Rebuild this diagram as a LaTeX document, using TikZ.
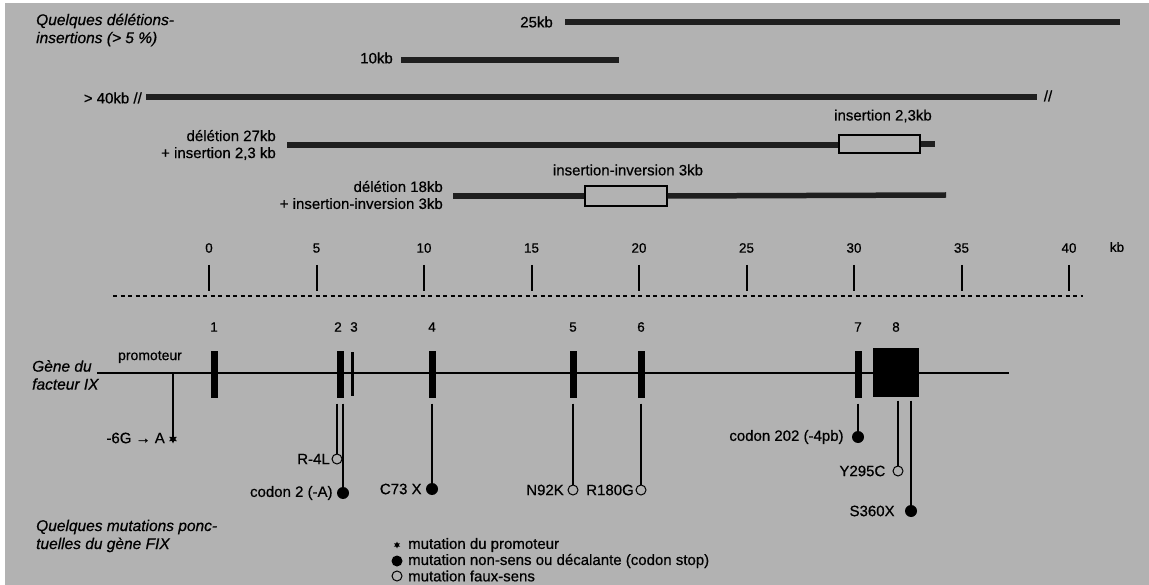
\documentclass[tikz,border=0pt]{standalone}
\usepackage{fontspec}
\setmainfont{Liberation Sans}
\newfontfamily\medfont{Liberation Sans}[FakeBold=0.6]
\usetikzlibrary{shapes.geometric}
\definecolor{bg}{gray}{0.70}
\begin{document}
\begin{tikzpicture}[x=1pt,y=-1pt]
\tikzset{
 lbl/.style={font=\medfont\fontsize{15}{17}\selectfont, inner sep=0pt},
 num/.style={font=\medfont\fontsize{13.5}{16}\selectfont, inner sep=0pt},
 ttl/.style={font=\medfont\fontsize{15.5}{18}\selectfont\itshape, inner sep=0pt, align=left, anchor=west},
 dbar/.style={line width=5.5pt, black!88},
 insbox/.style={draw, line width=1.3pt, fill=bg, inner sep=0pt},
 exon/.style={fill=black, inner sep=0pt},
 mut/.style={line width=1.4pt},
 odot/.style={circle, draw, line width=1pt, fill=bg, minimum size=10pt, inner sep=0pt},
 fdot/.style={circle, fill=black, minimum size=12pt, inner sep=0pt},
 sdot/.style={star, star points=6, star point ratio=2, fill=black, minimum size=9pt, inner sep=0pt},
 tick/.style={line width=2pt},
}
\fill[white] (0,0) rectangle (1149,585);
\fill[bg] (5,3) rectangle (1149,585);
\useasboundingbox (0,0) rectangle (1149,585);

% titles
\node[ttl] (t1) at (36,30) {Quelques délétions-\\insertions (> 5 \%)};
\node[ttl] (t2) at (32,375) {Gène du\\facteur IX};
\node[ttl] (t3) at (36,536) {Quelques mutations ponc-\\tuelles du gène FIX};

% deletions
\node[lbl, anchor=east] (l25) at (553,22) {25kb};
\coordinate (b25a) at (565,22); \coordinate (b25b) at (1120,22);
\draw[dbar] (b25a) -- (b25b);

\node[lbl, anchor=east] (l10) at (393,58) {10kb};
\coordinate (b10a) at (401,60); \coordinate (b10b) at (619,60);
\draw[dbar] (b10a) -- (b10b);

\node[lbl, anchor=east] (l40) at (142,98) {> 40kb //};
\coordinate (b40a) at (146,97); \coordinate (b40b) at (1037,97);
\draw[dbar] (b40a) -- (b40b);
\node[lbl] (l40e) at (1048,96) {//};

\node[lbl, anchor=east, align=right] (l27) at (276,145) {délétion 27kb\\+ insertion 2,3 kb};
\node[insbox, minimum width=81pt, minimum height=18pt] (i27) at (879.5,144) {};
\coordinate (b27a) at (287,145); \coordinate (b27b) at (935,144);
\draw[dbar] (b27a) -- (b27a -| i27.west);
\draw[dbar] (i27.east) -- (b27b);
\node[lbl] (li27) at (883,116) {insertion 2,3kb};

\node[lbl, anchor=east, align=right] (l18) at (443,195) {délétion 18kb\\+ insertion-inversion 3kb};
\node[insbox, minimum width=82pt, minimum height=20pt] (i18) at (626,196) {};
\coordinate (b18a) at (453,196); \coordinate (b18b) at (946,195);
\draw[dbar] (b18a) -- (i18.west);
\draw[dbar] (i18.east) -- (b18b);
\node[lbl] (li18) at (628,170) {insertion-inversion 3kb};

% scale
\foreach \k in {0,5,...,40}{
  \node[num] (s\k) at ({209+21.5*\k},248) {\k};
  \draw[tick] ({209+21.5*\k},265) -- ({209+21.5*\k},291);
}
\node[num] (skb) at (1117,247) {kb};
\coordinate (da) at (113,296); \coordinate (db) at (1083,296);
\draw[line width=2pt, dash pattern=on 4pt off 3.5pt] (da) -- (db);

% gene
\coordinate (ga) at (97,373); \coordinate (gb) at (1009,373);
\draw[line width=2.5pt] (ga) -- (gb);
\node[lbl, font=\medfont\fontsize{14}{16}\selectfont] (prom) at (150,357) {promoteur};
\node[exon, minimum width=7pt, minimum height=46pt] (e1) at (214,374.5) {};
\node[exon, minimum width=7pt, minimum height=46pt] (e2) at (340,374.5) {};
\node[exon, minimum width=3.5pt, minimum height=44pt] (e3) at (352.5,374) {};
\node[exon, minimum width=7pt, minimum height=46pt] (e4) at (432,374.5) {};
\node[exon, minimum width=7pt, minimum height=46pt] (e5) at (573,374.5) {};
\node[exon, minimum width=7pt, minimum height=46pt] (e6) at (641,374.5) {};
\node[exon, minimum width=7pt, minimum height=46pt] (e7) at (858.5,374.5) {};
\node[exon, minimum width=46pt, minimum height=48pt] (e8) at (896,372.5) {};
\node[num] (n1) at (214,327) {1};
\node[num] (n2) at (338,327) {2};
\node[num] (n3) at (354,327) {3};
\node[num] (n4) at (432,327) {4};
\node[num] (n5) at (573,327) {5};
\node[num] (n6) at (641,327) {6};
\node[num] (n7) at (858,327) {7};
\node[num] (n8) at (896,327) {8};

% mutations
\coordinate (pm) at (173,374);
\node[sdot] (mP) at (173,439) {};
\draw[mut] (pm) -- (mP.center);
\node[lbl, anchor=east] (lP) at (165,438) {-6G → A};

\node[odot] (mR4L) at (337,459) {};
\draw[mut] ([yshift=-6pt]e2.south -| mR4L) -- (mR4L.north);
\node[lbl, anchor=east] (lR4L) at ([xshift=-1.5pt]mR4L.west) {R-4L};

\node[fdot] (mC2) at (343,493) {};
\draw[mut] ([yshift=-6pt]e2.south -| mC2) -- (mC2.center);
\node[lbl, anchor=east] (lC2) at ([xshift=-4pt]mC2.west) {codon 2 (-A)};

\node[fdot] (mC73) at (432,489) {};
\draw[mut] ([yshift=-6pt]e4.south -| mC73) -- (mC73.center);
\node[lbl, anchor=east] (lC73) at ([xshift=-4pt]mC73.west) {C73 X};

\node[odot] (mN92) at (573,490) {};
\draw[mut] ([yshift=-6pt]e5.south -| mN92) -- (mN92.north);
\node[lbl, anchor=east] (lN92) at ([xshift=-3.5pt]mN92.west) {N92K};

\node[odot] (mR180) at (641,490) {};
\draw[mut] ([yshift=-6pt]e6.south -| mR180) -- (mR180.north);
\node[lbl, anchor=east] (lR180) at ([xshift=-1.5pt]mR180.west) {R180G};

\node[fdot] (mC202) at (858,437) {};
\draw[mut] ([yshift=-6pt]e7.south -| mC202) -- (mC202.center);
\node[lbl, anchor=east] (lC202) at ([xshift=-8pt]mC202.west) {codon 202 (-4pb)};

\node[odot] (mY295) at (898,471) {};
\draw[mut] ([yshift=-4pt]e8.south -| mY295) -- (mY295.north);
\node[lbl, anchor=east] (lY295) at ([xshift=-7pt]mY295.west) {Y295C};

\node[fdot] (mS360) at (911,511) {};
\draw[mut] ([yshift=-4pt]e8.south -| mS360) -- (mS360.center);
\node[lbl, anchor=east] (lS360) at ([xshift=-10pt]mS360.west) {S360X};

% legend
\node[sdot, minimum size=7pt] (k1) at (397,545) {};
\node[fdot, minimum size=11pt] (k2) at (397,561) {};
\node[odot] (k3) at (397,576) {};
\node[lbl, anchor=west] (kt1) at (408,545) {mutation du promoteur};
\node[lbl, anchor=west] (kt2) at (408,561) {mutation non-sens ou décalante (codon stop)};
\node[lbl, anchor=west] (kt3) at (408,576) {mutation faux-sens};
\end{tikzpicture}
\end{document}
